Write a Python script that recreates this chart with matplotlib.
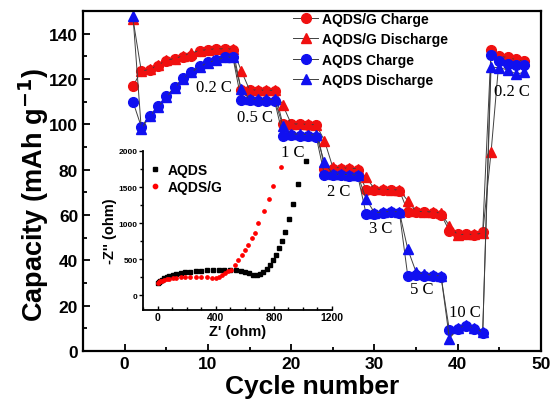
import matplotlib
matplotlib.use("Agg")
import matplotlib.pyplot as plt
from matplotlib.ticker import MultipleLocator

plt.rcParams['font.family'] = ['Liberation Sans', 'DejaVu Sans']
plt.rcParams['mathtext.default'] = 'bf'

# rate capability data (mAh/g)
cycles = list(range(1, 49))
aqdsg_charge = [116.8, 123.7, 124.0, 125.9, 128.0, 128.8, 129.9, 130.0, 132.5, 133.0, 133.3, 133.3, 133.0,
                115.0, 115.0, 114.9, 114.9, 114.8,
                100.0, 100.0, 100.0, 99.8, 99.6,
                80.5, 80.5, 80.3, 80.3, 80.0,
                71.1, 71.0, 71.0, 71.0, 70.8,
                61.5, 61.4, 61.3, 61.0, 60.2,
                53.0, 51.5, 51.5, 51.2, 52.5,
                133.0, 130.3, 129.6, 128.8, 128.0]
aqdsg_discharge = [146.5, 123.5, 124.2, 126.0, 128.3, 129.0, 130.2, 131.5, 132.5, 133.0, 133.3, 133.3, 133.2,
                   123.7, 115.2, 115.1, 115.0, 115.0,
                   108.5, 100.2, 100.1, 100.0, 99.8,
                   92.8, 81.0, 80.8, 80.6, 80.5,
                   76.6, 71.5, 71.3, 71.2, 71.0,
                   66.3, 61.6, 61.5, 61.3, 60.8,
                   55.2, 51.3, 51.5, 51.4, 52.0,
                   87.6, 130.0, 129.5, 128.5, 127.8]
aqds_charge = [110.0, 98.9, 103.8, 108.0, 112.4, 116.4, 120.5, 123.3, 125.6, 127.4, 128.5, 129.6, 129.6,
               110.6, 110.6, 110.5, 110.5, 110.4,
               95.0, 95.2, 95.0, 94.8, 94.6,
               77.6, 77.6, 77.5, 77.4, 77.2,
               60.4, 60.6, 60.8, 61.2, 61.0,
               33.1, 33.5, 33.3, 33.2, 32.8,
               9.1, 9.6, 11.1, 9.6, 8.1,
               130.5, 128.0, 126.6, 126.0, 126.0]
aqds_discharge = [148.0, 97.9, 103.5, 107.6, 112.0, 116.0, 120.0, 123.0, 125.4, 127.2, 128.4, 129.5, 129.8,
                  115.6, 111.0, 111.0, 111.0, 111.0,
                  99.4, 95.8, 95.6, 95.5, 95.2,
                  83.2, 78.0, 78.0, 77.8, 77.6,
                  67.0, 61.0, 61.3, 61.6, 61.3,
                  44.9, 34.8, 33.8, 33.5, 33.0,
                  5.5, 10.0, 11.3, 10.0, 8.3,
                  125.2, 125.0, 124.0, 122.2, 122.9]

rate_labels = ["0.2 C", "0.5 C", "1 C", "2 C", "3 C", "5 C", "10 C", "0.2 C"]
rate_x = [10.7, 15.6, 20.2, 25.7, 30.7, 35.7, 40.9, 46.5]
rate_y = [116.5, 103.4, 87.8, 70.8, 54.4, 27.3, 17.3, 114.5]

# EIS (Nyquist) data, ohm
aqds_zre = [0, 8, 18, 30, 45, 62, 82, 105, 130, 158, 190, 225, 262, 300, 340, 380, 420, 460, 500,
            540, 575, 605, 632, 658, 681, 704, 727, 750, 773, 796, 814, 835, 853, 876, 904, 934, 968, 1021]
aqds_zim = [170, 185, 200, 215, 232, 248, 262, 276, 290, 302, 315, 325, 333, 340, 345, 348, 350, 350, 348,
            342, 332, 318, 300, 285, 280, 290, 315, 360, 420, 490, 560, 654, 748, 874, 1050, 1270, 1540, 1868]
aqdsg_zre = [0, 8, 18, 30, 45, 62, 82, 105, 130, 158, 190, 225, 262, 300, 340, 375, 405, 425, 445,
             465, 485, 508, 531, 554, 578, 600, 623, 647, 670, 692, 731, 766, 796, 849]
aqdsg_zim = [165, 178, 190, 200, 210, 220, 228, 235, 241, 246, 250, 252, 252, 250, 246, 240, 234, 250, 275,
             305, 330, 350, 420, 490, 560, 630, 700, 792, 865, 1004, 1168, 1329, 1517, 1774]

W, H = 552, 406
fig = plt.figure(figsize=(W / 100, H / 100), dpi=100)
ax = fig.add_axes([83 / W, 1 - 352 / H, (541 - 83) / W, (352 - 12) / H])

red = '#f01010'
blue = '#1010f0'
line_c = '#404040'
series = [
    (aqdsg_charge, 'o', red, 'AQDS/G Charge'),
    (aqdsg_discharge, '^', red, 'AQDS/G Discharge'),
    (aqds_charge, 'o', blue, 'AQDS Charge'),
    (aqds_discharge, '^', blue, 'AQDS Discharge'),
]
for vals, m, c, lab in series:
    ax.plot(cycles, vals, '-', color=line_c, lw=0.7, marker=m, ms=7,
            mfc=c, mec=c, label=lab)

for t, x, y in zip(rate_labels, rate_x, rate_y):
    ax.text(x, y, t, family='Liberation Serif', fontsize=12, ha='center', va='center')

ax.set_xlim(-5, 50)
ax.set_ylim(0, 150)
ax.xaxis.set_major_locator(MultipleLocator(10))
ax.xaxis.set_minor_locator(MultipleLocator(5))
ax.yaxis.set_major_locator(MultipleLocator(20))
ax.yaxis.set_minor_locator(MultipleLocator(10))
ax.tick_params(which='both', direction='in', width=1.3, labelsize=12.5)
ax.tick_params(which='major', length=5)
ax.tick_params(which='minor', length=3)
for lbl in ax.get_xticklabels() + ax.get_yticklabels():
    lbl.set_fontweight('bold')
for s in ax.spines.values():
    s.set_linewidth(1.6)
ax.set_xlabel('Cycle number', fontsize=19, fontweight='bold', labelpad=2)
ax.set_ylabel('Capacity (mAh g$^{-1}$)', fontsize=19.5, fontweight='bold')
ax.yaxis.set_label_coords(-0.07, 0.46)

ax.legend(loc='upper left', bbox_to_anchor=(293 / W, 1 - 13 / H), bbox_transform=fig.transFigure,
          frameon=False, prop={'weight': 'bold', 'size': 10}, handlelength=1.8,
          handletextpad=0.3, labelspacing=0.45, borderpad=0, borderaxespad=0)

# inset: Nyquist plot
ins = fig.add_axes([143 / W, 1 - 310.5 / H, (332 - 143) / W, (310.5 - 152) / H])
ins.patch.set_alpha(0)
ins.plot(aqds_zre, aqds_zim, 's', color='black', ms=2.2, ls='', label='AQDS')
ins.plot(aqdsg_zre, aqdsg_zim, 'o', color='red', ms=2.4, ls='', label='AQDS/G')
ins.set_xlim(-100, 1200)
ins.set_ylim(-200, 2000)
ins.spines['top'].set_visible(False)
ins.spines['right'].set_visible(False)
for s in ('left', 'bottom'):
    ins.spines[s].set_linewidth(1.3)
ins.xaxis.set_major_locator(MultipleLocator(400))
ins.xaxis.set_minor_locator(MultipleLocator(100))
ins.yaxis.set_major_locator(MultipleLocator(500))
ins.yaxis.set_minor_locator(MultipleLocator(250))
ins.tick_params(axis='x', which='both', direction='in', width=1, labelsize=7.5, pad=2)
ins.tick_params(axis='y', which='both', direction='out', width=1, labelsize=6, pad=1)
ins.tick_params(which='major', length=3)
ins.tick_params(which='minor', length=2)
for lbl in ins.get_xticklabels() + ins.get_yticklabels():
    lbl.set_fontweight('bold')
ins.set_xlabel("Z' (ohm)", fontsize=10.5, fontweight='bold', labelpad=1)
ins.set_ylabel("-Z'' (ohm)", fontsize=10.5, fontweight='bold', labelpad=1)
ins.legend(loc='upper left', bbox_to_anchor=(151 / W, 1 - 164 / H), bbox_transform=fig.transFigure,
           frameon=False, prop={'weight': 'bold', 'size': 10}, handlelength=0.6,
           handletextpad=0.6, labelspacing=0.2, borderpad=0, borderaxespad=0, markerscale=1.3)

fig.savefig('out.png', dpi=100)
